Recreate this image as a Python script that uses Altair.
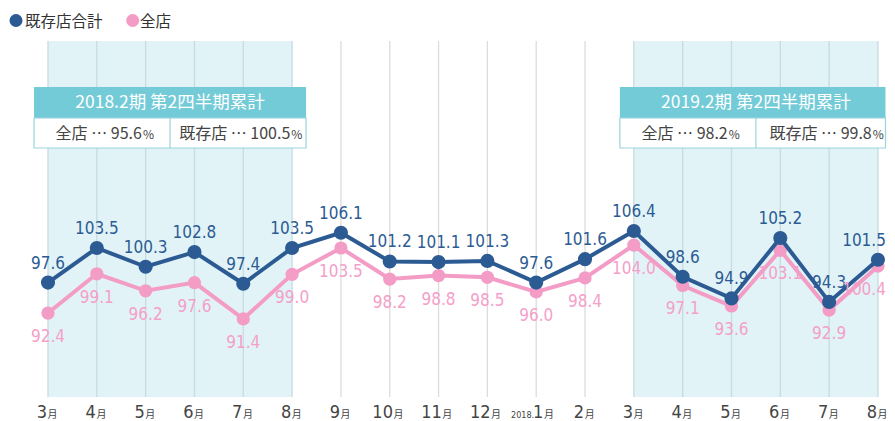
import altair as alt
import pandas as pd

# ---------------- data ----------------
month_nums = ["3", "4", "5", "6", "7", "8", "9", "10", "11", "12", "1", "2",
              "3", "4", "5", "6", "7", "8"]
month_prefix = ["", "", "", "", "", "", "", "", "", "", "2018.", "",
                "", "", "", "", "", ""]
existing = [97.6, 103.5, 100.3, 102.8, 97.4, 103.5, 106.1, 101.2, 101.1,
            101.3, 97.6, 101.6, 106.4, 98.6, 94.9, 105.2, 94.3, 101.5]
all_stores = [92.4, 99.1, 96.2, 97.6, 91.4, 99.0, 103.5, 98.2, 98.8,
              98.5, 96.0, 98.4, 104.0, 97.1, 93.6, 103.1, 92.9, 100.4]
series_names = ["既存店合計", "全店"]
box_names = ["全店", "既存店"]
band_start = [0, 12]
band_end = [5, 17]
box_titles = ["2018.2期 第2四半期累計", "2019.2期 第2四半期累計"]
box_all = [95.6, 98.2]
box_existing = [100.5, 99.8]

# ---------------- style ----------------
BLUE = "#2c5b93"
PINK = "#f39cc6"
PINK_TXT = "#f4a0c9"
BAND = "#e1f3f7"
TEAL = "#74cbd8"
BORDER = "#9ad4de"
GRID_IN = "#c6dce1"
GRID_OUT = "#dcdcdc"
TXT = "#444444"
JP = "Noto Sans CJK JP"
NUM = "Liberation Sans Narrow, DejaVu Sans Condensed, sans-serif"

W, H = 879, 413
PX_PER_UNIT = 48.82
X0 = 40  # view x of first month
XMAX = (W - X0) / PX_PER_UNIT

xs = alt.Scale(domain=[-X0 / PX_PER_UNIT, XMAX], nice=False, zero=False)
# y pixel (view) = 223 - (v - 106.4) * 5.86
ys = alt.Scale(domain=[106.4 - (H - 223) / 5.86, 106.4 + 223 / 5.86], nice=False, zero=False)


def X(field):
    return alt.X(field, type="quantitative", scale=xs, axis=None)


def Y(field):
    return alt.Y(field, type="quantitative", scale=ys, axis=None)


n = len(existing)
idx = list(range(n))
df = pd.DataFrame({"i": idx, "ex": existing, "al": all_stores,
                   "exl": [f"{v:.1f}" for v in existing],
                   "all": [f"{v:.1f}" for v in all_stores]})
df_in = df.iloc[:-1]
df_last = df.iloc[-1:]

# bands
band_df = pd.DataFrame({"x0": band_start, "x1": band_end})
band = alt.Chart(band_df).mark_rect(color=BAND).encode(
    x=X("x0"), x2="x1", y=alt.value(33), y2=alt.value(389))

# grid lines
inband = [any(s <= i <= e for s, e in zip(band_start, band_end)) for i in idx]
grid_df = pd.DataFrame({"i": idx, "c": [GRID_IN if b else GRID_OUT for b in inband]})
grid = alt.Chart(grid_df).mark_rule(strokeWidth=1.3).encode(
    x=X("i"), y=alt.value(33), y2=alt.value(389),
    color=alt.Color("c:N", scale=None))

base = alt.Chart(df)
pink_line = base.mark_line(color=PINK, strokeWidth=4).encode(x=X("i"), y=Y("al"))
pink_pts = base.mark_circle(color=PINK, size=175, opacity=1).encode(x=X("i"), y=Y("al"))
blue_line = base.mark_line(color=BLUE, strokeWidth=4).encode(x=X("i"), y=Y("ex"))
blue_pts = base.mark_circle(color=BLUE, size=200, opacity=1).encode(x=X("i"), y=Y("ex"))

blue_lbl = alt.Chart(df_in).mark_text(font=NUM, fontSize=17, color=BLUE, dy=-19,
                                      baseline="middle").encode(x=X("i"), y=Y("ex"), text="exl:N")
pink_lbl = alt.Chart(df_in).mark_text(font=NUM, fontSize=17, color=PINK_TXT, dy=24,
                                      baseline="middle").encode(x=X("i"), y=Y("al"), text="all:N")
# the last labels sit at the right edge of the chart: keep them inside it
blue_lbl_last = alt.Chart(df_last).mark_text(font=NUM, fontSize=17, color=BLUE, dy=-19, dx=8,
                                             align="right", baseline="middle").encode(
    x=X("i"), y=Y("ex"), text="exl:N")
pink_lbl_last = alt.Chart(df_last).mark_text(font=NUM, fontSize=17, color=PINK_TXT, dy=24, dx=8,
                                             align="right", baseline="middle").encode(
    x=X("i"), y=Y("al"), text="all:N")


# ---------------- summary boxes ----------------
def tw(s, size):
    w = 0.0
    for ch in s:
        if ch.isdigit():
            w += 0.55 * size
        elif ch == ".":
            w += 0.28 * size
        elif ch == " ":
            w += 0.25 * size
        elif ord(ch) < 128:
            w += 0.6 * size
        else:
            w += size
    return w


HALF = 2.786
CELL = 1.393
EDGE = XMAX - 1.5 / PX_PER_UNIT
centers = [(s + e) / 2 for s, e in zip(band_start, band_end)]
box_df = pd.DataFrame({"c": centers, "l": [c - HALF for c in centers],
                       "r": [min(c + HALF, EDGE) for c in centers], "t": box_titles})
header = alt.Chart(box_df).mark_rect(color=TEAL).encode(
    x=X("l"), x2="r", y=alt.value(79), y2=alt.value(110))
body = alt.Chart(box_df).mark_rect(fill="white", stroke=BORDER, strokeWidth=1.2).encode(
    x=X("l"), x2="r", y=alt.value(110), y2=alt.value(140))
divider = alt.Chart(box_df).mark_rule(color=BORDER, strokeWidth=1.2).encode(
    x=X("c"), y=alt.value(110), y2=alt.value(140))
title_txt = alt.Chart(box_df).mark_text(font=JP, fontSize=17.5, color="white",
                                        baseline="middle").encode(
    x=X("c"), y=alt.value(95), text="t:N")

cell_rows = []
for c, a, e in zip(centers, box_all, box_existing):
    for cc, name, v in [(c - CELL, box_names[0], a), (c + CELL, box_names[1], e)]:
        main = f"{name} ⋯ {v:.1f}"
        wm = tw(main, 16)
        wp = tw("%", 12)
        anchor = cc + ((wm + wp) / 2 - wp) / PX_PER_UNIT
        cell_rows.append({"x": anchor, "m": main, "p": "%"})
cell_df = pd.DataFrame(cell_rows)
cell_main = alt.Chart(cell_df).mark_text(font=JP, fontSize=16, color=TXT, align="right",
                                         baseline="alphabetic").encode(
    x=X("x"), y=alt.value(131), text="m:N")
cell_pct = alt.Chart(cell_df).mark_text(font=JP, fontSize=12, color=TXT, align="left",
                                        baseline="alphabetic", dx=1).encode(
    x=X("x"), y=alt.value(131), text="p:N")

# ---------------- x labels ----------------
NS, TS = 18, 10
LAB_Y = 410
lab_rows = []
for i, (m, p) in enumerate(zip(month_nums, month_prefix)):
    wn = tw(m, NS) * 0.83
    wt = TS
    if p:
        anchor = i + (wn - 1) / PX_PER_UNIT
    else:
        anchor = i + ((wn - wt) / 2) / PX_PER_UNIT
    lab_rows.append({"x": anchor, "n": m, "t": "月", "p": p,
                     "px": anchor - wn / PX_PER_UNIT})
lab_df = pd.DataFrame(lab_rows)
xl_num = alt.Chart(lab_df).mark_text(font=NUM, fontSize=NS, color=TXT, align="right",
                                     baseline="alphabetic").encode(
    x=X("x"), y=alt.value(LAB_Y), text="n:N")
xl_t = alt.Chart(lab_df).mark_text(font=JP, fontSize=TS, color=TXT, align="left",
                                   baseline="alphabetic", dx=0.5).encode(
    x=X("x"), y=alt.value(LAB_Y), text="t:N")
xl_p = alt.Chart(lab_df).mark_text(font=NUM, fontSize=9, color=TXT, align="right",
                                   baseline="alphabetic", dx=-1).encode(
    x=X("px"), y=alt.value(LAB_Y), text="p:N")

# ---------------- legend ----------------
leg_df = pd.DataFrame({"name": series_names, "c": [BLUE, PINK],
                       "px": [8, 124.7], "tx": [17, 132]})
leg_pt = alt.Chart(leg_df).mark_circle(size=170, opacity=1).encode(
    x=alt.X("px:Q", scale=alt.Scale(domain=[0, W], range=[0, W]), axis=None),
    y=alt.value(12.5), color=alt.Color("c:N", scale=None))
leg_tx = alt.Chart(leg_df).mark_text(font=JP, fontSize=15.5, color="#333333", align="left",
                                     baseline="alphabetic").encode(
    x=alt.X("tx:Q", scale=alt.Scale(domain=[0, W], range=[0, W]), axis=None),
    y=alt.value(18.5), text="name:N")

main_layer = alt.layer(band, grid, pink_line, pink_pts, blue_line, blue_pts,
                       blue_lbl, pink_lbl, blue_lbl_last, pink_lbl_last,
                       header, body, divider, title_txt,
                       cell_main, cell_pct, xl_num, xl_t, xl_p)
legend_layer = alt.layer(leg_pt, leg_tx)

chart = alt.layer(main_layer, legend_layer).resolve_scale(x="independent").properties(
    width=W, height=H, padding=0, autosize=alt.AutoSizeParams(type="none")
).configure_view(stroke=None)

chart.save("out.html", embed_options={"renderer": "svg", "actions": False})
